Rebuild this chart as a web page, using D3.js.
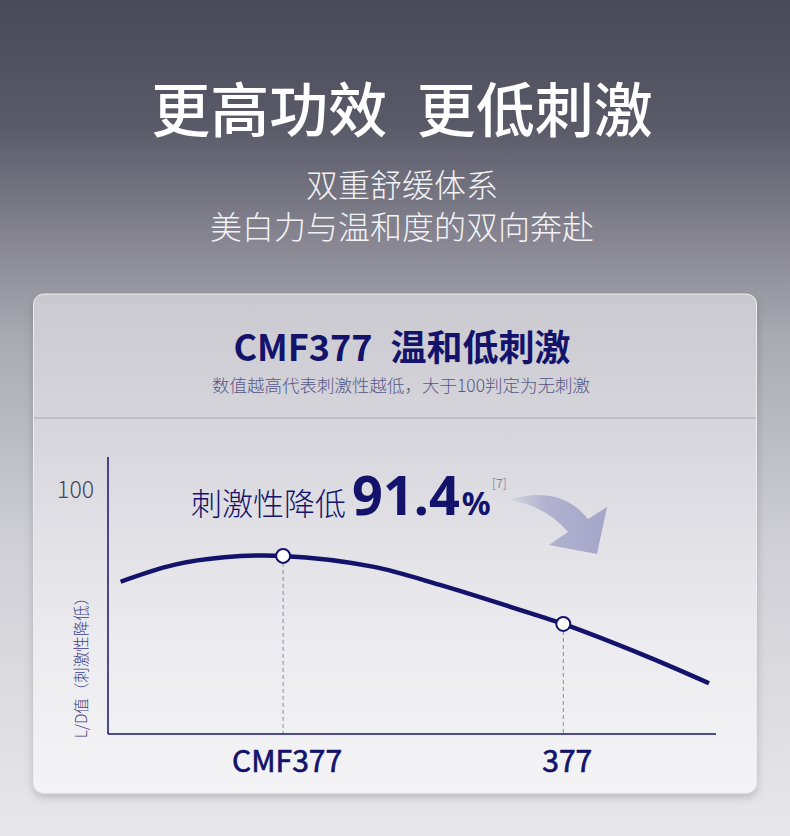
<!DOCTYPE html>
<html>
<head>
<meta charset="utf-8">
<script src="https://cdn.jsdelivr.net/npm/d3@7"></script>
<style>
  html, body { margin: 0; padding: 0; background: #e6e6e9; }
  svg { display: block; font-family: "Noto Sans CJK SC", "Noto Sans", sans-serif; }
</style>
</head>
<body>
<svg id="chart"></svg>
<script>
// categories and the values at the two marked points
const categories = ["CMF377", "377"];
const pointValues = [73.0, 45.1];

// the curve (x: 1 = CMF377, 2 = 377)
const curveX = [0.42, 0.61, 0.79, 1.0, 1.32, 1.56, 1.92, 2.0, 2.3, 2.52];
const curveY = [62.4, 69.3, 72.4, 73.0, 68.6, 61.1, 48.1, 45.1, 31.7, 20.8];

const yTicks = [100];

const W = 790, H = 836;
const navy = "#14136b";

const svg = d3.select("#chart")
  .attr("width", W)
  .attr("height", H)
  .attr("viewBox", [0, 0, W, H]);

const defs = svg.append("defs");

// page background
const bg = defs.append("linearGradient").attr("id", "bg")
  .attr("x1", 0).attr("y1", 0).attr("x2", 0).attr("y2", 1);
bg.append("stop").attr("offset", "0%").attr("stop-color", "#4a4959");
bg.append("stop").attr("offset", "15%").attr("stop-color", "#5a5968");
bg.append("stop").attr("offset", "28%").attr("stop-color", "#84838f");
bg.append("stop").attr("offset", "40%").attr("stop-color", "#a9a9b2");
bg.append("stop").attr("offset", "65%").attr("stop-color", "#cfcfd5");
bg.append("stop").attr("offset", "100%").attr("stop-color", "#e8e8eb");

// card fill
const cardGrad = defs.append("linearGradient").attr("id", "card")
  .attr("x1", 0).attr("y1", 0).attr("x2", 0).attr("y2", 1);
cardGrad.append("stop").attr("offset", "0%").attr("stop-color", "#c9c9cf");
cardGrad.append("stop").attr("offset", "30%").attr("stop-color", "#d7d7dd");
cardGrad.append("stop").attr("offset", "70%").attr("stop-color", "#ececf0");
cardGrad.append("stop").attr("offset", "100%").attr("stop-color", "#f4f4f6");

const arrowGrad = defs.append("linearGradient").attr("id", "arrowGrad")
  .attr("x1", 0).attr("y1", 0).attr("x2", 1).attr("y2", 0);
arrowGrad.append("stop").attr("offset", "0%").attr("stop-color", "#a8a8cc").attr("stop-opacity", 0.1);
arrowGrad.append("stop").attr("offset", "40%").attr("stop-color", "#a8a8cc").attr("stop-opacity", 0.85);
arrowGrad.append("stop").attr("offset", "100%").attr("stop-color", "#a6a6ca");

const shadow = defs.append("filter").attr("id", "shadow")
  .attr("x", "-5%").attr("y", "-5%").attr("width", "110%").attr("height", "115%");
shadow.append("feDropShadow")
  .attr("dx", 0).attr("dy", 4).attr("stdDeviation", 4)
  .attr("flood-color", "#000").attr("flood-opacity", 0.18);

svg.append("rect").attr("width", W).attr("height", H).attr("fill", "url(#bg)");

// header
svg.append("text")
  .attr("x", 402).attr("y", 132)
  .attr("text-anchor", "middle")
  .attr("fill", "#ffffff")
  .attr("font-size", 59)
  .attr("font-weight", 500)
  .text("更高功效\u2002更低刺激");

svg.append("text")
  .attr("x", 402).attr("y", 197)
  .attr("text-anchor", "middle")
  .attr("fill", "#f2f2f5")
  .attr("font-size", 32)
  .attr("font-weight", 300)
  .text("双重舒缓体系");

svg.append("text")
  .attr("x", 402).attr("y", 239)
  .attr("text-anchor", "middle")
  .attr("fill", "#f2f2f5")
  .attr("font-size", 32)
  .attr("font-weight", 300)
  .text("美白力与温和度的双向奔赴");

// card
svg.append("rect")
  .attr("x", 33.5).attr("y", 294)
  .attr("width", 723).attr("height", 499)
  .attr("rx", 10)
  .attr("fill", "url(#card)")
  .attr("stroke", "#ececf0")
  .attr("stroke-width", 1)
  .attr("filter", "url(#shadow)");

svg.append("text")
  .attr("x", 402).attr("y", 361)
  .attr("text-anchor", "middle")
  .attr("fill", navy)
  .attr("font-size", 36)
  .attr("font-weight", 700)
  .text("CMF377\u2002温和低刺激");

svg.append("text")
  .attr("x", 401).attr("y", 392)
  .attr("text-anchor", "middle")
  .attr("fill", "#585888")
  .attr("font-size", 17.5)
  .attr("font-weight", 300)
  .text("数值越高代表刺激性越低，大于100判定为无刺激");

svg.append("line")
  .attr("x1", 34).attr("x2", 756)
  .attr("y1", 418).attr("y2", 418)
  .attr("stroke", "#a4a4ba")
  .attr("stroke-width", 1);

// chart
const x = d3.scaleLinear().domain([0.375, 2.545]).range([108, 716]);
const y = d3.scaleLinear().domain([0, 100]).range([734, 490]);
const catX = d3.scalePoint().domain(categories).range([x(1), x(2)]);

const g = svg.append("g");

// dashed drop lines
g.selectAll(".drop")
  .data(categories)
  .join("line")
  .attr("class", "drop")
  .attr("x1", d => catX(d)).attr("x2", d => catX(d))
  .attr("y1", (d, i) => y(pointValues[i]) + 7)
  .attr("y2", y(0))
  .attr("stroke", "#8a8a9a")
  .attr("stroke-width", 1)
  .attr("stroke-dasharray", "4,3");

// axes
g.append("line")
  .attr("x1", x.range()[0]).attr("x2", x.range()[0])
  .attr("y1", 457).attr("y2", y(0))
  .attr("stroke", navy).attr("stroke-width", 1.5);
g.append("line")
  .attr("x1", x.range()[0]).attr("x2", x.range()[1])
  .attr("y1", y(0)).attr("y2", y(0))
  .attr("stroke", navy).attr("stroke-width", 1.5);

g.selectAll(".ytick")
  .data(yTicks)
  .join("text")
  .attr("class", "ytick")
  .attr("x", 94)
  .attr("y", d => y(d))
  .attr("dy", "0.36em")
  .attr("text-anchor", "end")
  .attr("fill", "#44445a")
  .attr("font-size", 23)
  .attr("font-weight", 300)
  .text(d => d);

g.selectAll(".xlabel")
  .data(categories)
  .join("text")
  .attr("class", "xlabel")
  .attr("x", d => catX(d))
  .attr("dx", 4)
  .attr("y", 772)
  .attr("text-anchor", "middle")
  .attr("fill", navy)
  .attr("stroke", navy)
  .attr("stroke-width", 0.7)
  .attr("font-size", 30)
  .attr("font-weight", 400)
  .text(d => d);

g.append("text")
  .attr("transform", "translate(87,664) rotate(-90)")
  .attr("text-anchor", "middle")
  .attr("fill", "#3e3e86")
  .attr("font-size", 15.5)
  .attr("font-weight", 300)
  .text("L/D值（刺激性降低）");

// curve
const line = d3.line()
  .x(d => x(d[0]))
  .y(d => y(d[1]))
  .curve(d3.curveCatmullRom.alpha(0.5));

g.append("path")
  .datum(d3.zip(curveX, curveY))
  .attr("d", line)
  .attr("fill", "none")
  .attr("stroke", navy)
  .attr("stroke-width", 4.5)
  .attr("stroke-linecap", "butt");

g.selectAll(".pt")
  .data(categories)
  .join("circle")
  .attr("class", "pt")
  .attr("cx", d => catX(d))
  .attr("cy", (d, i) => y(pointValues[i]))
  .attr("r", 7)
  .attr("fill", "#ffffff")
  .attr("stroke", navy)
  .attr("stroke-width", 2);

// headline
const head = g.append("text")
  .attr("x", 191).attr("y", 515)
  .attr("fill", navy);
head.append("tspan")
  .attr("font-size", 31)
  .attr("font-weight", 300)
  .text("刺激性降低");
head.append("tspan")
  .attr("dx", 6)
  .attr("font-size", 54)
  .attr("font-weight", 700)
  .attr("font-family", "'Noto Sans', sans-serif")
  .text("91.4");
head.append("tspan")
  .attr("dx", 2)
  .attr("font-size", 32)
  .attr("font-weight", 700)
  .attr("font-family", "'Noto Sans', sans-serif")
  .text("%");

g.append("text")
  .attr("x", 492).attr("y", 488)
  .attr("fill", "#6a6a98")
  .attr("font-size", 12.5)
  .attr("font-weight", 300)
  .text("[7]");

// curved arrow
g.append("path")
  .attr("d", "M508,500 Q560,484 588,519 L607,507 L597,554 L549,545 L568,532 Q545,505 508,500 Z")
  .attr("fill", "url(#arrowGrad)");
</script>
</body>
</html>
